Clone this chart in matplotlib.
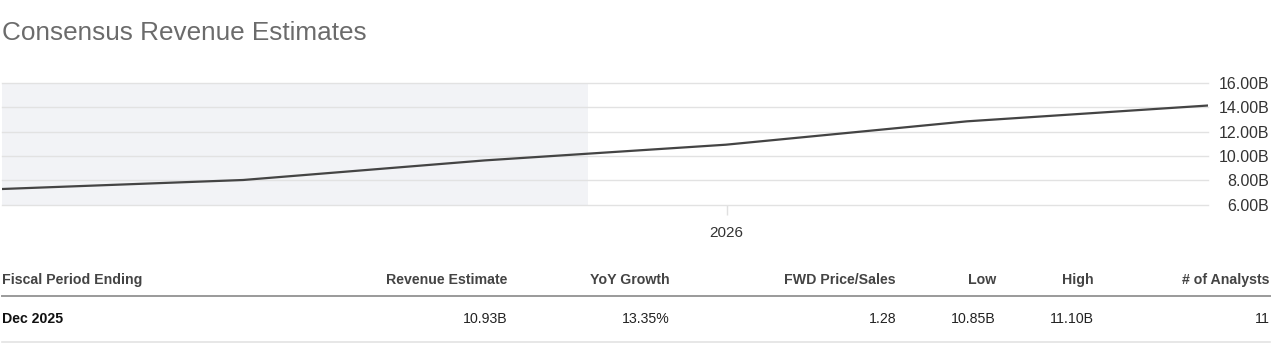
import matplotlib.pyplot as plt
import matplotlib.dates as mdates
import numpy as np
import pandas as pd

plt.rcParams['font.family'] = ['Liberation Sans', 'DejaVu Sans']

# chart data
period_dates = pd.to_datetime(['2022-12-31', '2023-12-31', '2024-12-31',
                               '2025-12-31', '2026-12-31', '2027-12-31'])
revenue_b = [7.29, 8.03, 9.64, 10.93, 12.85, 14.15]
actual_until = pd.Timestamp('2025-06-06')
y_ticks = [6, 8, 10, 12, 14, 16]

# table data
headers = ['Fiscal Period Ending', 'Revenue Estimate', 'YoY Growth',
           'FWD Price/Sales', 'Low', 'High', '# of Analysts']
row = ['Dec 2025', '10.93B', '13.35%', '1.28', '10.85B', '11.10B', '11']

W, H = 1280, 345
fig = plt.figure(figsize=(W / 100, H / 100), dpi=100)

def px(x, y):
    return x / W, 1 - y / H

# axes box in pixels: left 2, right 1208, top 83, bottom 204.7
ax = fig.add_axes([2 / W, 1 - 204.7 / H, 1206 / W, 121.7 / H])
ax.axvspan(period_dates[0], actual_until, color='#f2f3f6', lw=0, zorder=0)
ax.plot(period_dates, revenue_b, color='#444444', lw=1.6, zorder=3)
ax.set_xlim(period_dates[0], period_dates[-1])
ax.set_ylim(6, 16)
ax.set_yticks(y_ticks)
ax.set_yticklabels(['%.2fB' % v for v in y_ticks])
ax.yaxis.tick_right()
ax.grid(axis='y', color='#e2e2e2', lw=1)
for g in ax.get_ygridlines():
    g.set_clip_on(False)
ax.set_axisbelow(True)
for s in ax.spines.values():
    s.set_visible(False)
# right-aligned labels ending near x=1270 px
ax.tick_params(axis='y', length=0, pad=44, labelsize=11.5, labelcolor='#333333')
for lbl in ax.get_yticklabels():
    lbl.set_horizontalalignment('right')

ax.set_xticks([pd.Timestamp('2026-01-01')])
ax.xaxis.set_major_formatter(mdates.DateFormatter('%Y'))
ax.tick_params(axis='x', length=7, color='#e0e0e0', width=1, pad=8,
               labelsize=11, labelcolor='#333333')

# title
fig.text(*px(2, 33), 'Consensus Revenue Estimates', fontsize=18.8,
         color='#6b6b6b', va='center', ha='left')

# table
col_right = [None, 507, 670, 896, 996, 1094, 1270]
for i, h in enumerate(headers):
    if i == 0:
        fig.text(*px(2, 280), h, fontsize=10.2, fontweight='bold',
                 color='#444444', va='center', ha='left')
    else:
        fig.text(*px(col_right[i], 280), h, fontsize=10.2, fontweight='bold',
                 color='#444444', va='center', ha='right')
for i, v in enumerate(row):
    if i == 0:
        fig.text(*px(2, 319), v, fontsize=10.2, fontweight='bold',
                 color='#111111', va='center', ha='left')
    else:
        fig.text(*px(col_right[i], 319), v, fontsize=10.2,
                 color='#222222', va='center', ha='right')

fig.add_artist(plt.Line2D([2 / W, 1270 / W], [1 - 295.5 / H] * 2,
                          color='#9a9a9a', lw=1.4))
fig.add_artist(plt.Line2D([2 / W, 1270 / W], [1 - 341.5 / H] * 2,
                          color='#e3e3e3', lw=1.2))

fig.savefig('out.png', dpi=100)
